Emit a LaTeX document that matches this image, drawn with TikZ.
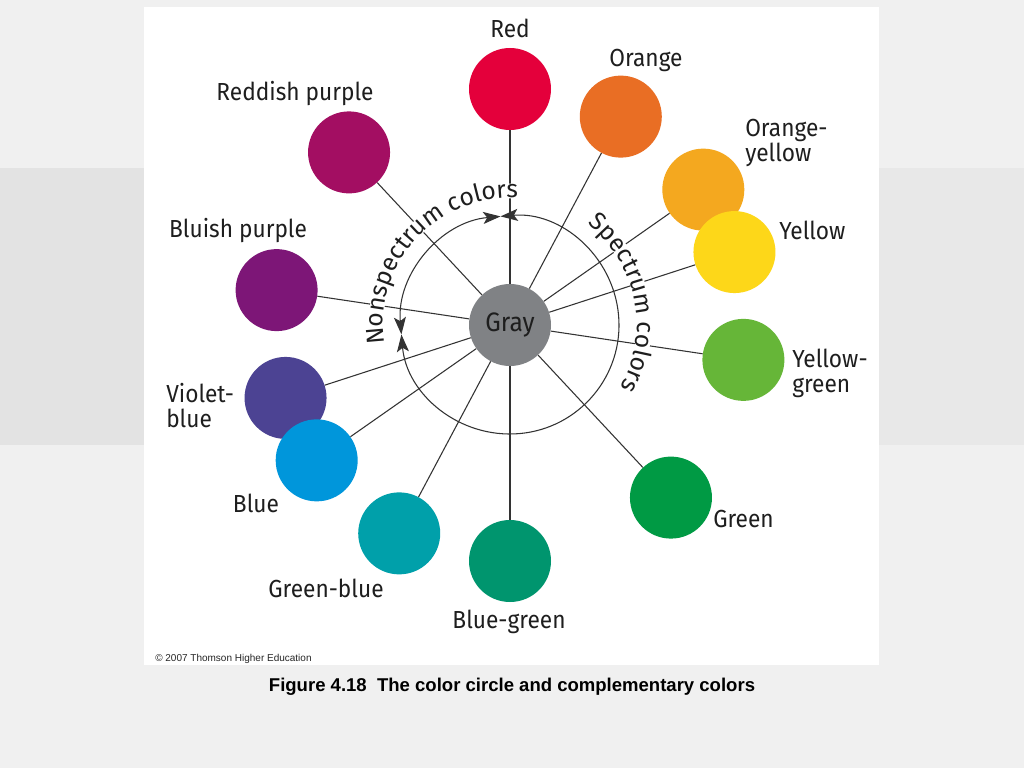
\documentclass[tikz,border=0pt]{standalone}
\usepackage{fontspec}
\setmainfont{Fira Sans}
\newfontfamily\labelfont[FakeStretch=0.92]{Fira Sans}
\newfontfamily\capfont{Liberation Sans}
\usetikzlibrary{arrows.meta,decorations.text}
\definecolor{pagegray}{HTML}{F0F0F0}
\definecolor{bandgray}{HTML}{E3E3E3}
\definecolor{rimink}{HTML}{333333}
\definecolor{labelink}{HTML}{1E1E1E}
\definecolor{swGray}{HTML}{808285}
\definecolor{swRed}{HTML}{E4003B}
\definecolor{swOrange}{HTML}{E96E24}
\definecolor{swOrangeYellow}{HTML}{F4A81F}
\definecolor{swYellow}{HTML}{FDD719}
\definecolor{swYellowGreen}{HTML}{66B638}
\definecolor{swGreen}{HTML}{009A44}
\definecolor{swBlueGreen}{HTML}{00956E}
\definecolor{swGreenBlue}{HTML}{00A0AA}
\definecolor{swBlue}{HTML}{0096DB}
\definecolor{swVioletBlue}{HTML}{4C4393}
\definecolor{swBluishPurple}{HTML}{7D1677}
\definecolor{swReddishPurple}{HTML}{A30E62}

\tikzset{
  swatch/.style={circle,minimum size=61.5pt,inner sep=0pt},
  spoke/.style={draw=rimink,line width=.8pt},
  rim/.style={draw=rimink,line width=.8pt},
  lbl/.style={font=\labelfont\fontsize{18.5}{18.75}\selectfont,text=labelink,inner sep=0pt},
  tipboth/.style={{Stealth[length=13pt,width=9pt,inset=3pt]}-{Stealth[length=13pt,width=9pt,inset=3pt]}},
  clearband/.style={draw=white,line width=11pt},
}

\begin{document}
\begin{tikzpicture}[x=.75pt,y=.75pt]
        \useasboundingbox (0,0) rectangle (1024,768);
        \fill[pagegray] (0,0) rectangle (1024,768);
        \fill[bandgray] (0,323) rectangle (145,600);
        \fill[bandgray!60!pagegray] (879,323) rectangle (1024,600);
        \fill[white] (144,103) rectangle (879,761);

        % color circle
        \coordinate (ctr) at (510,443);
        \draw[rim,tipboth] ([shift={(95:109)}]ctr) arc[start angle=95,end angle=185,radius=109];
        \draw[rim,tipboth] ([shift={(185:109)}]ctr) arc[start angle=185,end angle=455,radius=109];

        \node[swatch,fill=swGray,text=labelink,font=\labelfont\fontsize{20}{22}\selectfont] (gray) at (ctr) {Gray};
        \node[swatch,fill=swRed] (red) at ([shift={(90:236)}]ctr) {};
        \node[swatch,fill=swOrange] (orange) at ([shift={(62:236)}]ctr) {};
        \node[swatch,fill=swOrangeYellow] (orangeyellow) at ([shift={(35:236)}]ctr) {};
        \node[swatch,fill=swYellow] (yellow) at ([shift={(18:236)}]ctr) {};
        \node[swatch,fill=swYellowGreen] (yellowgreen) at ([shift={(-8.5:236)}]ctr) {};
        \node[swatch,fill=swGreen] (green) at ([shift={(-47:236)}]ctr) {};
        \node[swatch,fill=swBlueGreen] (bluegreen) at ([shift={(-90:236)}]ctr) {};
        \node[swatch,fill=swGreenBlue] (greenblue) at ([shift={(242:236)}]ctr) {};
        \node[swatch,fill=swVioletBlue] (violetblue) at ([shift={(198:236)}]ctr) {};
        \node[swatch,fill=swBlue] (blue) at ([shift={(215:236)}]ctr) {};
        \node[swatch,fill=swBluishPurple] (bluishpurple) at ([shift={(171.5:236)}]ctr) {};
        \node[swatch,fill=swReddishPurple] (reddishpurple) at ([shift={(133:236)}]ctr) {};

        \draw[spoke] (gray) -- (red);
        \draw[spoke] (gray) -- (orange);
        \draw[spoke] (gray) -- (orangeyellow);
        \draw[spoke] (gray) -- (yellow);
        \draw[spoke] (gray) -- (yellowgreen);
        \draw[spoke] (gray) -- (green);
        \draw[spoke] (gray) -- (bluegreen);
        \draw[spoke] (gray) -- (greenblue);
        \draw[spoke] (gray) -- (blue);
        \draw[spoke] (gray) -- (violetblue);
        \draw[spoke] (gray) -- (bluishpurple);
        \draw[spoke] (gray) -- (reddishpurple);

        % arc captions (spokes break under the letters)
        \draw[clearband] ([shift={(189:134)}]ctr) arc[start angle=189,end angle=86,radius=134];
        \draw[clearband] ([shift={(50:134)}]ctr) arc[start angle=50,end angle=-27,radius=134];
        \path[decorate,decoration={text along path,text align=center,text color=labelink,
          text={|\fontsize{18.5}{20}\selectfont|Nonspectrum colors}}]
          ([shift={(192:127)}]ctr) arc[start angle=192,end angle=83,radius=127];
        \path[decorate,decoration={text along path,text align=center,text color=labelink,
          text={|\fontsize{18.5}{20}\selectfont|Spectrum colors}}]
          ([shift={(53:127)}]ctr) arc[start angle=53,end angle=-30,radius=127];

        % labels
        \node[lbl,anchor=base] (redlbl) at (510,730) {Red};
        \node[lbl,anchor=base] (orangelbl) at (646,701.5) {Orange};
        \node[lbl,anchor=north west,align=left] (orangeyellowlbl) at (745,648.7) {Orange-\\yellow};
        \node[lbl,anchor=base west] (yellowlbl) at (779,528) {Yellow};
        \node[lbl,anchor=north west,align=left] (yellowgreenlbl) at (792,419) {Yellow-\\green};
        \node[lbl,anchor=base west] (greenlbl) at (713,241) {Green};
        \node[lbl,anchor=base] (bluegreenlbl) at (509,140) {Blue-green};
        \node[lbl,anchor=base] (greenbluelbl) at (326,171) {Green-blue};
        \node[lbl,anchor=base] (bluelbl) at (256,255) {Blue};
        \node[lbl,anchor=north west,align=left] (violetbluelbl) at (166,385) {Violet-\\blue};
        \node[lbl,anchor=base] (bluishpurplelbl) at (238,530) {Bluish purple};
        \node[lbl,anchor=base] (reddishpurplelbl) at (295,667) {Reddish purple};

        \node[font=\capfont\fontsize{7.5}{9}\selectfont,text=black!85,anchor=base west,inner sep=0pt] (credit) at (155,107) {\textcopyright{} 2007 Thomson Higher Education};
        \node[font=\capfont\bfseries\fontsize{13.9}{16}\selectfont,anchor=base,inner sep=0pt] (caption) at (512,77) {Figure 4.18\ \ The color circle and complementary colors};
      \end{tikzpicture}
\end{document}
